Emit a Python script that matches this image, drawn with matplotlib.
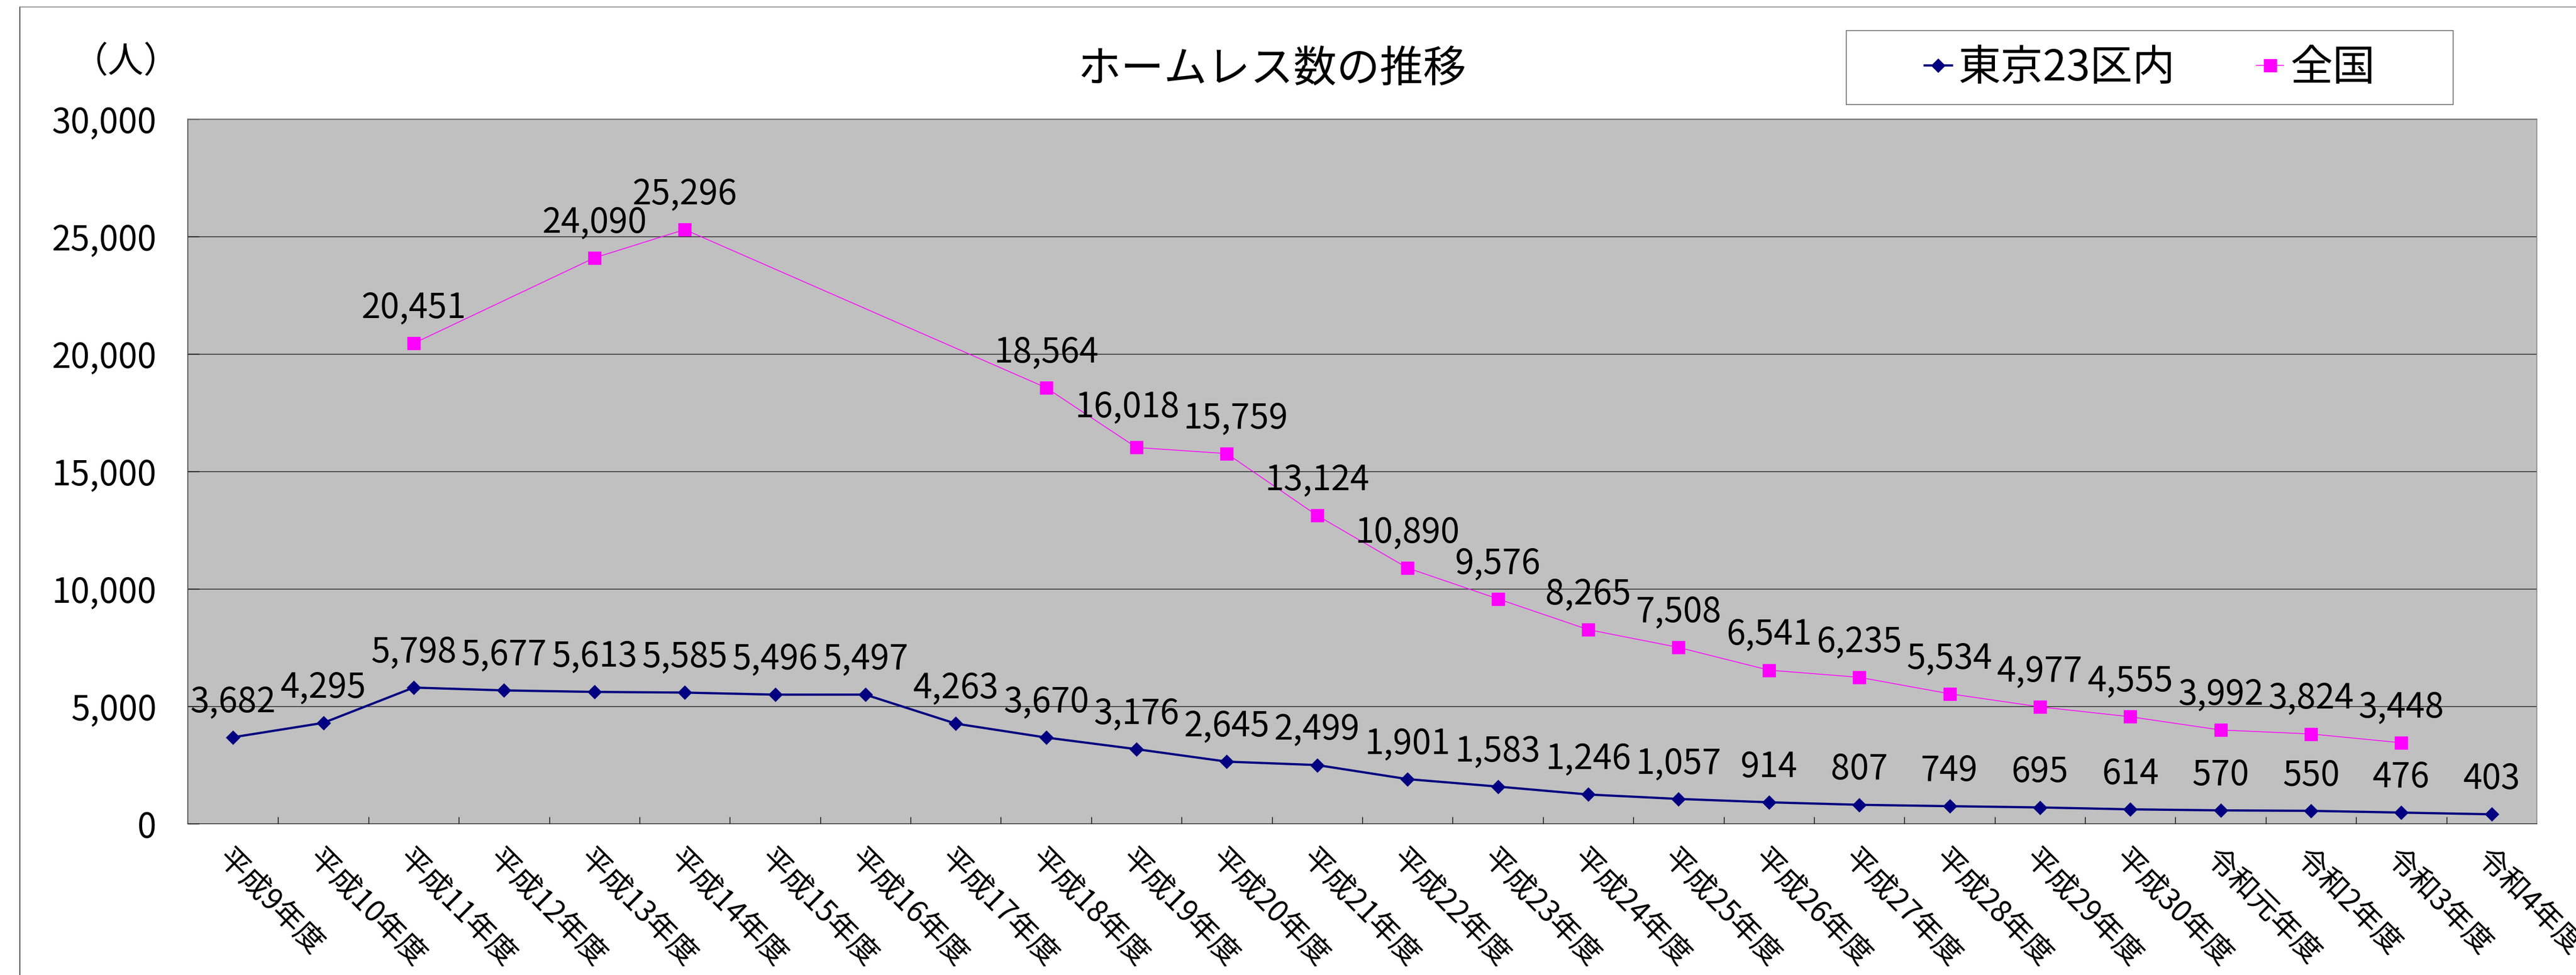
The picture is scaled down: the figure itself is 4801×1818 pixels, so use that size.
import numpy as np
import matplotlib
matplotlib.use("Agg")
import matplotlib.pyplot as plt
from matplotlib.lines import Line2D
from matplotlib.patches import Rectangle

plt.rcParams['font.family'] = ['Noto Sans CJK JP', 'DejaVu Sans']

# data
years = ['平成9年度', '平成10年度', '平成11年度', '平成12年度', '平成13年度',
         '平成14年度', '平成15年度', '平成16年度', '平成17年度', '平成18年度',
         '平成19年度', '平成20年度', '平成21年度', '平成22年度', '平成23年度',
         '平成24年度', '平成25年度', '平成26年度', '平成27年度', '平成28年度',
         '平成29年度', '平成30年度', '令和元年度', '令和2年度', '令和3年度',
         '令和4年度']
tokyo = [3682, 4295, 5798, 5677, 5613, 5585, 5496, 5497, 4263, 3670,
         3176, 2645, 2499, 1901, 1583, 1246, 1057, 914, 807, 749,
         695, 614, 570, 550, 476, 403]
zenkoku = [None, None, 20451, None, 24090, 25296, None, None, None, 18564,
           16018, 15759, 13124, 10890, 9576, 8265, 7508, 6541, 6235, 5534,
           4977, 4555, 3992, 3824, 3448, None]
yticks = [0, 5000, 10000, 15000, 20000, 25000, 30000]

# label nudges (points) where labels were moved by hand in the original
nudge = {10: (-12, 41), 11: (12, 34)}

W, H = 4801, 1818
fig = plt.figure(figsize=(W / 100, H / 100), dpi=100)
fig.patch.set_facecolor('white')

# plot area in pixels: left 350, right 4728, top 222, bottom 1536
ax = fig.add_axes([350 / W, 1 - 1536 / H, 4378 / W, 1314 / H])
ax.set_facecolor('#C0C0C0')

x = np.arange(len(years))
ax.plot(x, tokyo, color='#000080', lw=3, marker='D', ms=13,
        mec='#000080', mfc='#000080', mew=0.5, label='東京23区内', zorder=4)

zx = [i for i, v in enumerate(zenkoku) if v is not None]
zy = [v for v in zenkoku if v is not None]
ax.plot(zx, zy, color='#FF00FF', lw=1.1, marker='s', ms=17,
        mec='#FF00FF', mfc='#FF00FF', mew=0.5, label='全国', zorder=4)

for i, v in enumerate(tokyo):
    ax.annotate(f'{v:,}', (i, v), xytext=(0, 34), textcoords='offset points',
                ha='center', va='baseline', fontsize=46, zorder=5)
for i, v in zip(zx, zy):
    ax.annotate(f'{v:,}', (i, v), xytext=nudge.get(i, (0, 34)),
                textcoords='offset points',
                ha='center', va='baseline', fontsize=46, zorder=5)

ax.set_xlim(-0.5, len(years) - 0.5)
ax.set_ylim(0, 30000)
ax.set_yticks(yticks)
ax.set_yticklabels([f'{v:,}' for v in yticks])
ax.yaxis.grid(True, color='#1a1a1a', lw=1.0)
ax.set_axisbelow(True)

ax.set_xticks(x)
ax.set_xticklabels(years, rotation=-45, ha='left', va='top',
                   rotation_mode='anchor')
ax.set_xticks(np.arange(0.5, len(years) - 1, 1.0), minor=True)
ax.tick_params(axis='x', which='major', length=0, pad=26, labelsize=40)
ax.tick_params(axis='x', which='minor', direction='in', length=9.5,
               width=1, color='black')
ax.tick_params(axis='y', direction='in', length=15, width=1,
               color='black', pad=42, labelsize=46)

for s in ['left', 'bottom']:
    ax.spines[s].set_color('#333333')
    ax.spines[s].set_linewidth(1.1)
for s in ['top', 'right']:
    ax.spines[s].set_color('#808080')
    ax.spines[s].set_linewidth(1.1)

# title and unit
fig.text(2371 / W, 1 - 129 / H, 'ホームレス数の推移', ha='center', va='center',
         fontsize=58)
fig.text(235 / W, 1 - 116 / H, '（人）', ha='center', va='center', fontsize=48)

# legend box
fig.add_artist(Rectangle((3441 / W, 1 - 195 / H), (4572 - 3441) / W,
                         (195 - 57) / H, transform=fig.transFigure,
                         facecolor='white', edgecolor='#606060', lw=1.1))
fig.legend(loc='center', bbox_to_anchor=((3441 + 4572) / 2 / W,
                                         1 - 127 / H),
           ncol=2, frameon=False, fontsize=57, handlelength=0.65,
           handletextpad=0.15, columnspacing=1.9, borderpad=0)

# chart outer border (cropped on right and bottom)
fig.add_artist(Line2D([37 / W, 37 / W], [0, 1 - 13 / H],
                      transform=fig.transFigure, color='#202020', lw=1.1))
fig.add_artist(Line2D([37 / W, 1], [1 - 13 / H, 1 - 13 / H],
                      transform=fig.transFigure, color='#808080', lw=1.1))

fig.savefig('out.png', dpi=100, facecolor='white')
